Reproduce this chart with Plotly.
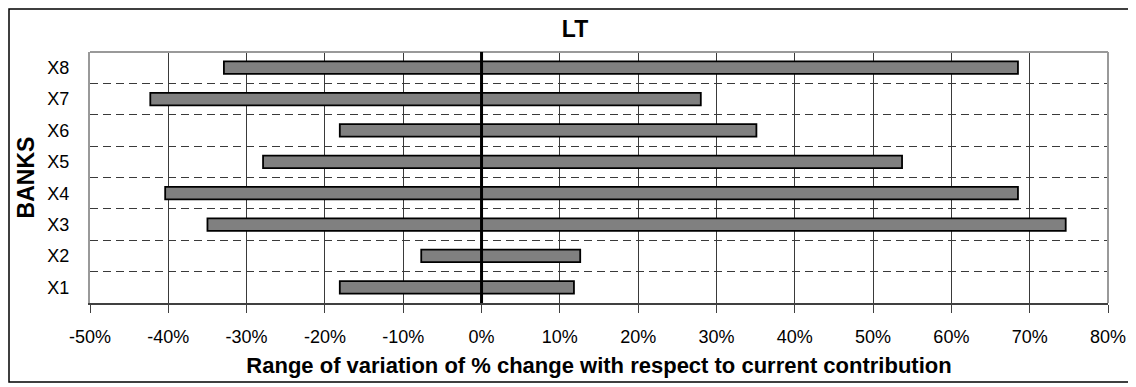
import plotly.graph_objects as go

banks = ["X1", "X2", "X3", "X4", "X5", "X6", "X7", "X8"]
low_pct = [-18.1, -7.7, -35.0, -40.4, -27.9, -18.1, -42.3, -32.9]
high_pct = [11.8, 12.6, 74.6, 68.5, 53.7, 35.1, 28.0, 68.5]
x_ticks = [-50, -40, -30, -20, -10, 0, 10, 20, 30, 40, 50, 60, 70, 80]

lows = [v / 100 for v in low_pct]
spans = [(h - l) / 100 for l, h in zip(low_pct, high_pct)]

# page body has an 8px margin, so the figure is sized/positioned in local coords
OFF = 8
W, H = 1136 - OFF, 387 - OFF
L, R, T, B = 90 - OFF, 1108 - OFF, 52 - OFF, 303 - OFF

fig = go.Figure()
fig.add_trace(go.Bar(
    y=banks, x=spans, base=lows, orientation="h", width=0.4,
    marker=dict(color="#808080", line=dict(color="black", width=1.8)),
    hoverinfo="skip", showlegend=False,
))

font = "Liberation Sans, Arial, sans-serif"

fig.update_layout(
    width=W, height=H,
    margin=dict(l=L, r=W - R, t=T, b=H - B, pad=0, autoexpand=False),
    paper_bgcolor="white", plot_bgcolor="white",
    font=dict(family=font, size=18, color="black"),
    title=dict(text="<b>LT</b>", x=(575 - OFF) / W, xanchor="center",
               y=1 - (29 - OFF) / H, yanchor="middle",
               font=dict(family=font, size=23, color="black")),
    xaxis=dict(
        range=[-0.5, 0.8], tickvals=[v / 100 for v in x_ticks],
        ticktext=[f"{v}%" for v in x_ticks],
        showgrid=True, gridcolor="#3a3a3a", gridwidth=1,
        zeroline=False,
        showline=True, linecolor="#404040", linewidth=2,
        ticks="outside", ticklen=8, tickcolor="#404040", tickwidth=1,
        ticklabelstandoff=8,
        title=dict(text="<b>Range of variation of % change with respect to current contribution</b>",
                   font=dict(family=font, size=22), standoff=12),
    ),
    yaxis=dict(
        categoryorder="array", categoryarray=banks,
        tickson="boundaries",
        showgrid=True, gridcolor="#3a3a3a", gridwidth=1, griddash="8px,5px",
        showline=True, linecolor="#999999", linewidth=2,
        ticks="", ticklabelstandoff=15,
        title=dict(text="<b>BANKS</b>", font=dict(family=font, size=23), standoff=6),
    ),
    shapes=[
        dict(type="line", xref="paper", yref="paper", x0=0, x1=1, y0=1, y1=1,
             line=dict(color="#999999", width=2), layer="above"),
        dict(type="line", xref="paper", yref="paper", x0=1, x1=1, y0=0, y1=1,
             line=dict(color="#999999", width=2), layer="above"),
        dict(type="line", xref="x", yref="paper", x0=0, x1=0, y0=0, y1=1,
             line=dict(color="black", width=3), layer="above"),
        dict(type="rect", xref="paper", yref="paper",
             x0=(1 - L) / (R - L), x1=(1132 - OFF - L) / (R - L),
             y0=(B - (382 - OFF)) / (B - T), y1=(B - 1) / (B - T),
             line=dict(color="black", width=1.5), fillcolor="rgba(0,0,0,0)",
             layer="below"),
    ],
)

fig.write_html("out.html")
